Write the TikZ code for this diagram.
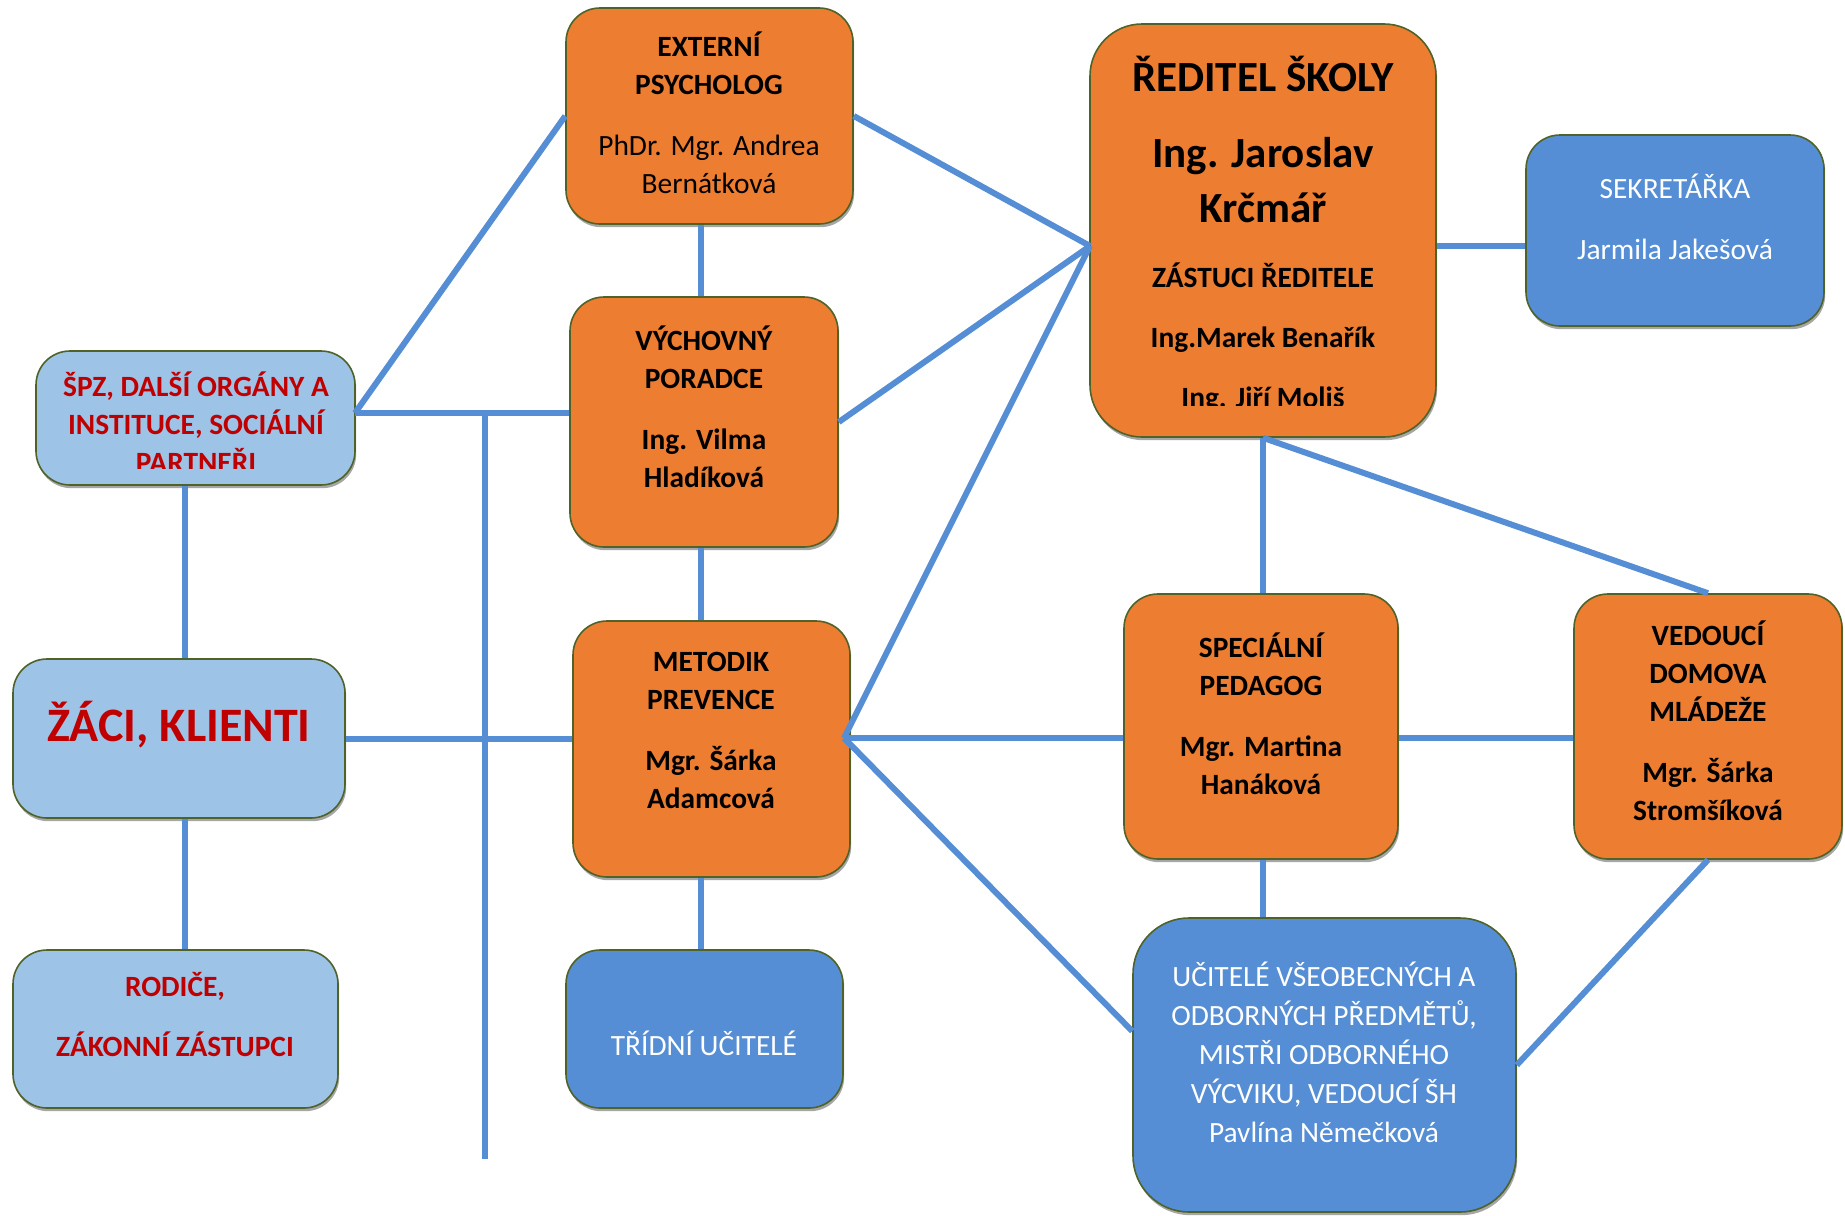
\documentclass[tikz,border=0pt]{standalone}
\usepackage{fontspec}
\setmainfont{Carlito}
\usetikzlibrary{fit,shadows}

\definecolor{orng}{HTML}{ED7D31}
\definecolor{lnblue}{HTML}{558ED5}
\definecolor{ltblue}{HTML}{9DC3E6}
\definecolor{dkblue}{HTML}{558ED5}
\definecolor{edge}{HTML}{4F6228}
\definecolor{redtxt}{HTML}{C00000}

\tikzset{
  box/.style={draw=edge, line width=0.8pt, rounded corners=17pt, inner sep=0pt,
    drop shadow={shadow xshift=0.6pt, shadow yshift=-1.6pt, opacity=0.35, fill=black}},
  obox/.style={box, fill=orng},
  bbox/.style={box, fill=dkblue},
  lbox/.style={box, fill=ltblue},
  link/.style={draw=lnblue, line width=3pt},
  txt/.style={align=center, inner sep=0pt, font=\fontsize{14.7}{19}\selectfont},
  btxt/.style={txt, font=\fontsize{14.7}{19}\selectfont\bfseries},
}

\begin{document}
\begin{tikzpicture}[x=0.5pt, y=-0.5pt]
  \useasboundingbox (0,0) rectangle (1845,1215);

  % boxes
  \node[obox, fit={(566,8) (853,224)}] (ext) {};
  \node[obox, fit={(570,297) (838,547)}] (vych) {};
  \node[obox, fit={(573,621) (850,877)}] (met) {};
  \node[bbox, fit={(566,950) (843,1108)}] (trid) {};
  \node[obox, rounded corners=26pt, fit={(1090,24) (1436,437)}] (red) {};
  \node[bbox, fit={(1526,135) (1824,326)}] (sek) {};
  \node[obox, fit={(1124,594) (1398,859)}] (spec) {};
  \node[obox, fit={(1574,594) (1842,859)}] (ved) {};
  \node[bbox, rounded corners=28pt, fit={(1133,918) (1516,1212)}] (ucit) {};
  \node[lbox, fit={(36,351) (355,485)}] (spz) {};
  \node[lbox, fit={(13,659) (345,818)}] (zaci) {};
  \node[lbox, fit={(13,950) (338,1108)}] (rod) {};

  % texts
  \node[btxt] (ext-t) at (709,113) {EXTERNÍ\\PSYCHOLOG\\[11.5pt]
    \mdseries PhDr. Mgr. Andrea\\\mdseries Bernátková};
  \node[btxt] (vych-t) at (704,407) {VÝCHOVNÝ\\PORADCE\\[11.5pt]Ing. Vilma\\Hladíková};
  \node[btxt] (met-t) at (711,730) {METODIK\\PREVENCE\\[11.5pt]Mgr. Šárka\\Adamcová};
  \node[txt, text=white] (trid-t) at (704,1043) {TŘÍDNÍ UČITELÉ};
  \node[btxt, font=\fontsize{21.5}{27.5}\selectfont\bfseries] (red-t1) at (1263,74) {ŘEDITEL ŠKOLY};
  \node[btxt, font=\fontsize{21.5}{27.5}\selectfont\bfseries] (red-t2) at (1263,180) {Ing. Jaroslav\\Krčmář};
  \begin{scope}
    \clip (1090,0) rectangle (1436,405);
    \node[btxt, font=\fontsize{14.7}{30}\selectfont\bfseries] (red-t3) at (1263,338)
      {ZÁSTUCI ŘEDITELE\\Ing.Marek Benařík\\Ing. Jiří Moliš};
  \end{scope}
  \node[txt, text=white, font=\fontsize{14.7}{30.5}\selectfont] (sek-t) at (1675,217) {SEKRETÁŘKA\\Jarmila Jakešová};
  \node[btxt] (spec-t) at (1261,714) {SPECIÁLNÍ\\PEDAGOG\\[11.5pt]Mgr. Martina\\Hanáková};
  \node[btxt] (ved-t) at (1708,721) {VEDOUCÍ\\DOMOVA\\MLÁDEŽE\\[11.5pt]Mgr. Šárka\\Stromšíková};
  \node[txt, text=white, font=\fontsize{14.7}{19.5}\selectfont] (ucit-t) at (1324,1052)
    {UČITELÉ VŠEOBECNÝCH A\\ODBORNÝCH PŘEDMĚTŮ,\\MISTŘI ODBORNÉHO\\VÝCVIKU, VEDOUCÍ ŠH\\Pavlína Němečková};
  \begin{scope}
    \clip (0,0) rectangle (400,468);
    \node[btxt, text=redtxt] (spz-t) at (196,422) {ŠPZ, DALŠÍ ORGÁNY A\\INSTITUCE, SOCIÁLNÍ\\PARTNEŘI};
  \end{scope}
  \node[btxt, text=redtxt, font=\fontsize{24}{28}\selectfont\bfseries] (zaci-t) at (179,725) {ŽÁCI, KLIENTI};
  \node[btxt, text=redtxt, font=\fontsize{14.7}{30}\selectfont\bfseries] (rod-t) at (175,1015) {RODIČE,\\ZÁKONNÍ ZÁSTUPCI};

  % connectors
  \coordinate (sh) at (355,413);
  \coordinate (busend) at (485,1159);
  \coordinate (lx) at (185,0);
  \coordinate (cx) at (701,0);
  \coordinate (mh) at (844,738);
  \coordinate (rh) at (1090,246);

  \draw[link] (sh) -- (ext.west);
  \draw[link] (sh) -- (sh -| vych.west);
  \draw[link] (sh -| busend) -- (busend);
  \draw[link] (spz.south -| lx) -- (zaci.north -| lx);
  \draw[link] (zaci.south -| lx) -- (rod.north -| lx);
  \draw[link] (zaci.east) -- (zaci.east -| met.west);
  \draw[link] (ext.south -| cx) -- (vych.north -| cx);
  \draw[link] (vych.south -| cx) -- (met.north -| cx);
  \draw[link] (met.south -| cx) -- (trid.north -| cx);
  \draw[link] (ext.east) -- (rh);
  \draw[link] (vych.east) -- (rh);
  \draw[link] (mh) -- (rh);
  \draw[link] (mh) -- (mh -| spec.west);
  \draw[link] (mh -| spec.east) -- (mh -| ved.west);
  \draw[link] (mh) -- (ucit.170);
  \draw[link] (rh -| red.east) -- (rh -| sek.west);
  \draw[link] (red.south) -- (red.south |- spec.north);
  \draw[link] (red.south) -- (ved.north);
  \draw[link] (spec.south -| red.south) -- (red.south |- ucit.north);
  \draw[link] (ved.south) -- (ucit.east);
\end{tikzpicture}
\end{document}
